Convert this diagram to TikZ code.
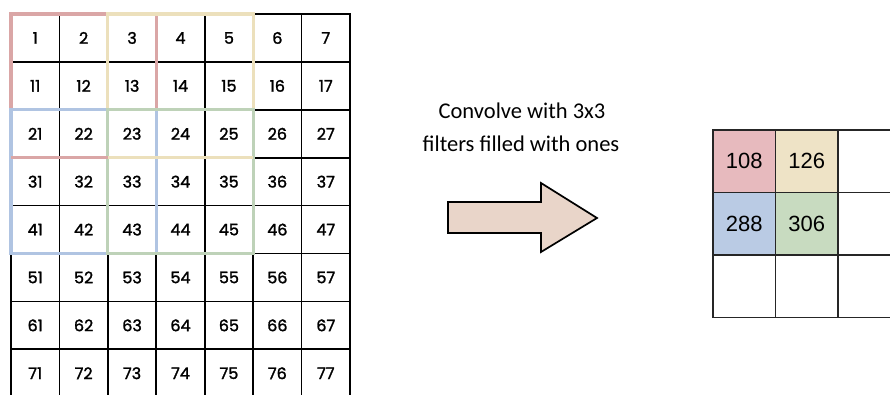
\documentclass[tikz,border=0pt]{standalone}
\usepackage{fontspec}
\setmainfont{Carlito}
\newfontfamily\gridfont[FakeBold=1.6]{Poppins}
\newfontfamily\outfont{Liberation Sans}
\definecolor{fred}{RGB}{218,166,166}
\definecolor{fyel}{RGB}{236,224,188}
\definecolor{fblu}{RGB}{176,196,226}
\definecolor{fgrn}{RGB}{190,210,184}
\definecolor{cred}{RGB}{231,186,190}
\definecolor{cyel}{RGB}{238,227,198}
\definecolor{cblu}{RGB}{186,203,228}
\definecolor{cgrn}{RGB}{200,219,192}
\definecolor{arrowfill}{RGB}{233,213,201}
\begin{document}
\begin{tikzpicture}[x=1pt,y=-1pt,
  incell/.style={draw=black, line width=1.7pt, outer sep=0pt, inner sep=0pt,
    minimum width=48.43pt, minimum height=47.9pt,
    font=\gridfont\fontsize{16}{17}\selectfont},
  outcell/.style={draw=black!85, line width=1.3pt, outer sep=0pt, inner sep=0pt,
    minimum width=62.5pt, minimum height=62.5pt,
    font=\outfont\fontsize{22}{23}\selectfont},
  frame/.style={line width=3.2pt},
  caption/.style={anchor=base, font=\fontsize{22.5}{25}\selectfont}]
\useasboundingbox (0,0) rectangle (890,394);
\fill[white] (0,0) rectangle (890,394);

% input grid, 8 rows of 7 numbered cells
\foreach \r in {0,...,7}{
  \foreach \c in {1,...,7}{
    \pgfmathtruncatemacro\v{10*\r+\c}
    \node[incell] (a-\r-\c) at ({11+48.43*(\c-0.5)},{14+47.9*(\r+0.5)}) {\v};
  }
}

% 3x3 filter windows with stride 2
\draw[frame, fred] (a-0-1.north west) rectangle (a-2-3.south east);
\draw[frame, fyel] (a-0-3.north west) rectangle (a-2-5.south east);
\draw[frame, fblu] (a-2-1.north west) rectangle (a-4-3.south east);
\draw[frame, fgrn] (a-2-3.north west) rectangle (a-4-5.south east);
% lower edges of the top windows lie over the lower windows
\draw[frame, fred] (a-2-1.south west) -- (a-2-3.south east);
\draw[frame, fyel] (a-2-3.south west) -- (a-2-5.south east);

% caption
\node[caption] (cap1) at (522,118) {Convolve with 3x3};
\node[caption] (cap2) at (521,151) {filters filled with ones};

% block arrow
\draw[line width=1.7pt, fill=arrowfill, line join=miter]
  (448,202) -- (541,202) -- (541,183) -- (597,218) -- (541,252)
  -- (541,233) -- (448,233) -- cycle;

% output grid
\node[outcell, fill=cred] (b-0-1) at ({713+62.5*0.5},{130+62.5*0.5}) {108};
\node[outcell, fill=cyel] (b-0-2) at ({713+62.5*1.5},{130+62.5*0.5}) {126};
\node[outcell]            (b-0-3) at ({713+62.5*2.5},{130+62.5*0.5}) {};
\node[outcell, fill=cblu] (b-1-1) at ({713+62.5*0.5},{130+62.5*1.5}) {288};
\node[outcell, fill=cgrn] (b-1-2) at ({713+62.5*1.5},{130+62.5*1.5}) {306};
\node[outcell]            (b-1-3) at ({713+62.5*2.5},{130+62.5*1.5}) {};
\node[outcell]            (b-2-1) at ({713+62.5*0.5},{130+62.5*2.5}) {};
\node[outcell]            (b-2-2) at ({713+62.5*1.5},{130+62.5*2.5}) {};
\node[outcell]            (b-2-3) at ({713+62.5*2.5},{130+62.5*2.5}) {};
\end{tikzpicture}
\end{document}
